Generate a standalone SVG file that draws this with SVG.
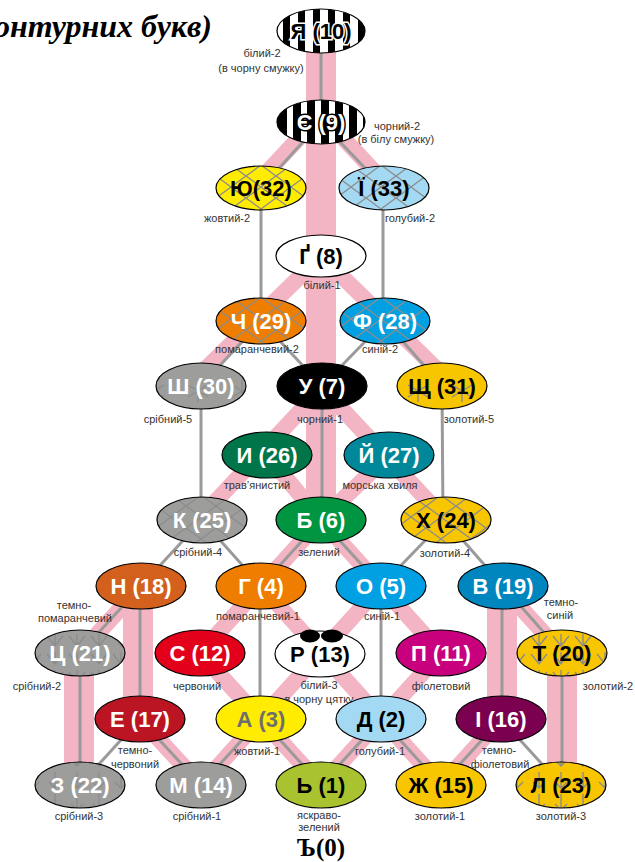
<svg xmlns="http://www.w3.org/2000/svg" width="635" height="862" viewBox="0 0 635 862">
<style>
.pk{stroke:#F3B4C3;fill:none;stroke-linecap:butt}
.w{stroke-width:30}
.d{stroke-width:16}
.g{stroke:#9a9a9a;stroke-width:3;fill:none}
.o{stroke:#000;stroke-width:1.2}
.t{font-family:"Liberation Sans",Arial,sans-serif;font-weight:bold;font-size:22px;text-anchor:middle}
.tw{fill:#fff}
.tb{fill:#000}
.l{font-family:"Liberation Sans",Arial,sans-serif;font-size:11px;fill:#333;text-anchor:middle}
.pt{stroke:#8c8c8c;stroke-width:1.4;fill:none}
</style>
<defs>
<pattern id="lat" patternUnits="userSpaceOnUse" width="30" height="22" x="6" y="0"><path class="pt" d="M0,0 L15,11 L30,0 M0,22 L15,11 L30,22"/></pattern>
<pattern id="chk" patternUnits="userSpaceOnUse" width="22" height="18" x="0" y="4"><path class="pt" d="M3,2 L11,12 L19,2 M11,0 L11,12"/></pattern>
<pattern id="star" patternUnits="userSpaceOnUse" width="44" height="46" x="0" y="0"><path class="pt" d="M22,12 L22,34 M12,17 L32,29 M12,29 L32,17"/></pattern>
<pattern id="arr" patternUnits="userSpaceOnUse" width="22" height="22" x="0" y="0"><path class="pt" d="M11,2 L11,18 M5,12 L11,18 L17,12"/></pattern>
<clipPath id="cYa"><ellipse cx="321" cy="31" rx="44" ry="22"/></clipPath>
<clipPath id="cYe"><ellipse cx="321" cy="122" rx="44" ry="22"/></clipPath>
</defs>
<rect width="635" height="862" fill="#fff"/>

<text x="212" y="37" font-family="Liberation Serif,Times New Roman,serif" font-weight="bold" font-style="italic" font-size="32" text-anchor="end" fill="#000">онтурних букв)</text>

<g id="connectors">
<g id="pink">
<line class="pk w" x1="321" y1="31" x2="321" y2="520"/>
<line class="pk w" x1="138" y1="586" x2="138" y2="719"/>
<line class="pk w" x1="502" y1="586" x2="502" y2="719"/>
<line class="pk w" x1="79" y1="653" x2="79" y2="785"/>
<line class="pk w" x1="562" y1="653" x2="562" y2="785"/>
<line class="pk d" x1="312" y1="124" x2="256" y2="184"/>
<line class="pk d" x1="330" y1="124" x2="386" y2="184"/>
<line class="pk d" x1="321" y1="256" x2="188" y2="386"/>
<line class="pk d" x1="321" y1="256" x2="454" y2="386"/>
<line class="pk d" x1="318" y1="392" x2="200" y2="518"/>
<line class="pk d" x1="326" y1="392" x2="444" y2="518"/>
<line class="pk d" x1="267" y1="455" x2="321" y2="520"/>
<line class="pk d" x1="389" y1="455" x2="321" y2="520"/>
<line class="pk d" x1="321" y1="520" x2="200" y2="653"/>
<line class="pk d" x1="321" y1="520" x2="441" y2="653"/>
<line class="pk d" x1="132" y1="596" x2="80" y2="653"/>
<line class="pk d" x1="510" y1="596" x2="562" y2="653"/>
<line class="pk d" x1="261" y1="586" x2="441" y2="785"/>
<line class="pk d" x1="381" y1="586" x2="201" y2="785"/>
<line class="pk d" x1="200" y1="653" x2="321" y2="785"/>
<line class="pk d" x1="441" y1="653" x2="321" y2="785"/>
<line class="pk d" x1="140" y1="719" x2="201" y2="785"/>
<line class="pk d" x1="501" y1="719" x2="441" y2="785"/>
</g>
<g id="gray">
<line class="g" x1="321" y1="31" x2="321" y2="122"/>
<line class="g" x1="321" y1="122" x2="261" y2="188"/>
<line class="g" x1="321" y1="122" x2="384" y2="188"/>
<line class="g" x1="261" y1="188" x2="261" y2="321"/>
<line class="g" x1="383" y1="188" x2="383" y2="321"/>
<line class="g" x1="261" y1="321" x2="201" y2="386"/>
<line class="g" x1="261" y1="321" x2="322" y2="386"/>
<line class="g" x1="385" y1="321" x2="322" y2="386"/>
<line class="g" x1="385" y1="321" x2="442" y2="386"/>
<line class="g" x1="201" y1="386" x2="201" y2="520"/>
<line class="g" x1="322" y1="386" x2="322" y2="520"/>
<line class="g" x1="442" y1="386" x2="443" y2="520"/>
<line class="g" x1="202" y1="520" x2="141" y2="586"/>
<line class="g" x1="202" y1="520" x2="261" y2="586"/>
<line class="g" x1="321" y1="520" x2="261" y2="586"/>
<line class="g" x1="321" y1="520" x2="381" y2="586"/>
<line class="g" x1="445" y1="520" x2="381" y2="586"/>
<line class="g" x1="445" y1="520" x2="503" y2="586"/>
<line class="g" x1="141" y1="586" x2="80" y2="653"/>
<line class="g" x1="140" y1="586" x2="140" y2="719"/>
<line class="g" x1="260" y1="586" x2="260" y2="719"/>
<line class="g" x1="381" y1="586" x2="381" y2="719"/>
<line class="g" x1="503" y1="586" x2="562" y2="653"/>
<line class="g" x1="502" y1="586" x2="502" y2="719"/>
<line class="g" x1="80" y1="653" x2="80" y2="785"/>
<line class="g" x1="562" y1="653" x2="562" y2="785"/>
<line class="g" x1="140" y1="719" x2="80" y2="785"/>
<line class="g" x1="140" y1="719" x2="201" y2="785"/>
<line class="g" x1="261" y1="719" x2="201" y2="785"/>
<line class="g" x1="261" y1="719" x2="321" y2="785"/>
<line class="g" x1="381" y1="719" x2="321" y2="785"/>
<line class="g" x1="381" y1="719" x2="441" y2="785"/>
<line class="g" x1="501" y1="719" x2="441" y2="785"/>
<line class="g" x1="501" y1="719" x2="561" y2="785"/>
</g>
</g>

<g id="n-ya">
<ellipse cx="321" cy="31" rx="44" ry="22" fill="#fff"/>
<g clip-path="url(#cYa)" fill="#000"><rect x="283" y="5" width="7" height="52"/><rect x="298" y="5" width="7" height="52"/><rect x="313" y="5" width="7" height="52"/><rect x="328" y="5" width="7" height="52"/><rect x="343" y="5" width="7" height="52"/><rect x="358" y="5" width="7" height="52"/></g>
<ellipse class="o" cx="321" cy="31" rx="44" ry="22" fill="none"/>
<text class="t tb" x="321" y="39" stroke="#fff" stroke-width="3" paint-order="stroke">Я (10)</text>
<text class="l" x="262" y="57">білий-2</text>
<text class="l" x="261" y="72">(в чорну смужку)</text>
</g>
<g id="n-ye">
<ellipse cx="321" cy="122" rx="44" ry="22" fill="#000"/>
<g clip-path="url(#cYe)" fill="#fff"><rect x="287" y="96" width="6" height="52"/><rect x="301" y="96" width="6" height="52"/><rect x="315" y="96" width="6" height="52"/><rect x="329" y="96" width="6" height="52"/><rect x="343" y="96" width="6" height="52"/><rect x="357" y="96" width="6" height="52"/></g>
<ellipse class="o" cx="321" cy="122" rx="44" ry="22" fill="none"/>
<text class="t tw" x="321" y="130" stroke="#000" stroke-width="3" paint-order="stroke">Є (9)</text>
<text class="l" x="397" y="130">чорний-2</text>
<text class="l" x="396" y="143">(в білу смужку)</text>
</g>
<g id="n-yu">
<ellipse cx="261" cy="188" rx="45" ry="22" fill="#FFEC00"/>
<ellipse class="o" cx="261" cy="188" rx="45" ry="22" fill="url(#lat)"/>
<text class="t tb" x="261" y="196">Ю(32)</text>
<text class="l" x="227" y="222">жовтий-2</text>
</g>
<g id="n-yi">
<ellipse cx="384" cy="188" rx="45" ry="22" fill="#A3D9F2"/>
<ellipse class="o" cx="384" cy="188" rx="45" ry="22" fill="url(#lat)"/>
<text class="t tb" x="384" y="196">Ї (33)</text>
<text class="l" x="410" y="222">голубий-2</text>
</g>
<g id="n-ge">
<ellipse class="o" cx="321" cy="256" rx="45" ry="21" fill="#fff"/>
<text class="t tb" x="321" y="264">Ґ (8)</text>
<text class="l" x="322" y="289">білий-1</text>
</g>
<g id="n-ch">
<ellipse cx="261" cy="321" rx="45" ry="23" fill="#EE7D00"/>
<ellipse class="o" cx="261" cy="321" rx="45" ry="23" fill="url(#lat)"/>
<text class="t tw" x="261" y="329">Ч (29)</text>
<text class="l" x="257" y="353">помаранчевий-2</text>
</g>
<g id="n-f">
<ellipse cx="385" cy="321" rx="45" ry="23" fill="#00A0E2"/>
<ellipse class="o" cx="385" cy="321" rx="45" ry="23" fill="url(#lat)"/>
<text class="t tw" x="385" y="329">Ф (28)</text>
<text class="l" x="380" y="353">синій-2</text>
</g>
<g id="n-sh">
<ellipse cx="201" cy="386" rx="45" ry="23" fill="#9D9D9C"/>
<ellipse class="o" cx="201" cy="386" rx="45" ry="23" fill="url(#star)"/>
<text class="t tw" x="201" y="394">Ш (30)</text>
<text class="l" x="168" y="423">срібний-5</text>
</g>
<g id="n-u">
<ellipse class="o" cx="322" cy="386" rx="45" ry="23" fill="#000"/>
<text class="t tw" x="322" y="394">У (7)</text>
<text class="l" x="320" y="423">чорний-1</text>
</g>
<g id="n-shch">
<ellipse cx="442" cy="386" rx="45" ry="23" fill="#F7C600"/>
<ellipse class="o" cx="442" cy="386" rx="45" ry="23" fill="url(#star)"/>
<text class="t tb" x="442" y="394">Щ (31)</text>
<text class="l" x="469" y="423">золотий-5</text>
</g>
<g id="n-y">
<ellipse class="o" cx="267" cy="455" rx="45" ry="23" fill="#00754A"/>
<text class="t tw" x="267" y="463">И (26)</text>
<text class="l" x="257" y="489">трав’янистий</text>
</g>
<g id="n-yk">
<ellipse class="o" cx="389" cy="455" rx="45" ry="23" fill="#00889A"/>
<text class="t tw" x="389" y="463">Й (27)</text>
<text class="l" x="380" y="489">морська хвиля</text>
</g>
<g id="n-k">
<ellipse cx="202" cy="520" rx="45" ry="23" fill="#9D9D9C"/>
<ellipse class="o" cx="202" cy="520" rx="45" ry="23" fill="url(#lat)"/>
<text class="t tw" x="202" y="528">К (25)</text>
<text class="l" x="198" y="556">срібний-4</text>
</g>
<g id="n-b">
<ellipse class="o" cx="321" cy="520" rx="45" ry="23" fill="#009540"/>
<text class="t tw" x="321" y="528">Б (6)</text>
<text class="l" x="319" y="556">зелений</text>
</g>
<g id="n-kh">
<ellipse cx="446" cy="520" rx="45" ry="23" fill="#F7C600"/>
<ellipse class="o" cx="446" cy="520" rx="45" ry="23" fill="url(#lat)"/>
<text class="t tb" x="446" y="528">Х (24)</text>
<text class="l" x="445" y="557">золотий-4</text>
</g>
<g id="n-n">
<ellipse class="o" cx="141" cy="586" rx="45" ry="23" fill="#D3601C"/>
<text class="t tw" x="141" y="594">Н (18)</text>
<text class="l" x="74" y="609">темно-</text>
<text class="l" x="75" y="622">помаранчевий</text>
</g>
<g id="n-h">
<ellipse class="o" cx="261" cy="586" rx="45" ry="23" fill="#EE7D00"/>
<text class="t tw" x="261" y="594">Г (4)</text>
<text class="l" x="258" y="620">помаранчевий-1</text>
</g>
<g id="n-o">
<ellipse class="o" cx="381" cy="586" rx="45" ry="23" fill="#00A0E2"/>
<text class="t tw" x="381" y="594">О (5)</text>
<text class="l" x="382" y="620">синій-1</text>
</g>
<g id="n-v">
<ellipse class="o" cx="503" cy="586" rx="45" ry="23" fill="#0086BE"/>
<text class="t tw" x="503" y="594">В (19)</text>
<text class="l" x="561" y="606">темно-</text>
<text class="l" x="560" y="619">синій</text>
</g>
<g id="n-ts">
<ellipse cx="80" cy="653" rx="45" ry="23" fill="#9D9D9C"/>
<ellipse class="o" cx="80" cy="653" rx="45" ry="23" fill="url(#chk)"/>
<text class="t tw" x="80" y="661">Ц (21)</text>
<text class="l" x="37" y="690">срібний-2</text>
</g>
<g id="n-s">
<ellipse class="o" cx="200" cy="653" rx="45" ry="23" fill="#E3001B"/>
<text class="t tw" x="200" y="661">С (12)</text>
<text class="l" x="197" y="690">червоний</text>
</g>
<g id="n-r">
<ellipse class="o" cx="320" cy="654" rx="45" ry="23" fill="#fff"/>
<ellipse cx="310" cy="636" rx="10" ry="6.5" fill="#000"/>
<ellipse cx="332" cy="636" rx="11" ry="6.5" fill="#000"/>
<text class="t tb" x="320" y="662">Р (13)</text>
<text class="l" x="319" y="689">білий-3</text>
<text class="l" x="319" y="703">в чорну цятку</text>
</g>
<g id="n-p">
<ellipse class="o" cx="441" cy="653" rx="45" ry="23" fill="#C9007D"/>
<text class="t tw" x="441" y="661">П (11)</text>
<text class="l" x="441" y="690">фіолетовий</text>
</g>
<g id="n-t">
<ellipse cx="562" cy="653" rx="45" ry="23" fill="#F7C600"/>
<ellipse class="o" cx="562" cy="653" rx="45" ry="23" fill="url(#chk)"/>
<text class="t tb" x="562" y="661">Т (20)</text>
<text class="l" x="608" y="690">золотий-2</text>
</g>
<g id="n-e">
<ellipse class="o" cx="140" cy="719" rx="45" ry="23" fill="#BB1524"/>
<text class="t tw" x="140" y="727">Е (17)</text>
<text class="l" x="135" y="754">темно-</text>
<text class="l" x="135" y="768">червоний</text>
</g>
<g id="n-a">
<ellipse class="o" cx="261" cy="719" rx="45" ry="23" fill="#FFEC00"/>
<text class="t" x="261" y="727" fill="#6e6e6e">А (3)</text>
<text class="l" x="257" y="755">жовтий-1</text>
</g>
<g id="n-d">
<ellipse class="o" cx="381" cy="719" rx="45" ry="23" fill="#A3D9F2"/>
<text class="t tb" x="381" y="727">Д (2)</text>
<text class="l" x="380" y="755">голубий-1</text>
</g>
<g id="n-i">
<ellipse class="o" cx="501" cy="719" rx="45" ry="23" fill="#7B0050"/>
<text class="t tw" x="501" y="727">І (16)</text>
<text class="l" x="499" y="754">темно-</text>
<text class="l" x="500" y="768">фіолетовий</text>
</g>
<g id="n-z">
<ellipse cx="80" cy="785" rx="45" ry="23" fill="#9D9D9C"/>
<ellipse class="o" cx="80" cy="785" rx="45" ry="23" fill="url(#arr)"/>
<text class="t tw" x="80" y="793">З (22)</text>
<text class="l" x="79" y="820">срібний-3</text>
</g>
<g id="n-m">
<ellipse class="o" cx="201" cy="785" rx="45" ry="23" fill="#9D9D9C"/>
<text class="t tw" x="201" y="793">М (14)</text>
<text class="l" x="197" y="820">срібний-1</text>
</g>
<g id="n-soft">
<ellipse class="o" cx="321" cy="785" rx="45" ry="23" fill="#A8C32F"/>
<text class="t tb" x="321" y="793">Ь (1)</text>
<text class="l" x="319" y="819">яскраво-</text>
<text class="l" x="319" y="831">зелений</text>
</g>
<g id="n-zh">
<ellipse class="o" cx="441" cy="785" rx="45" ry="23" fill="#F7C600"/>
<text class="t tb" x="441" y="793">Ж (15)</text>
<text class="l" x="440" y="820">золотий-1</text>
</g>
<g id="n-l">
<ellipse cx="561" cy="785" rx="45" ry="23" fill="#F7C600"/>
<ellipse class="o" cx="561" cy="785" rx="45" ry="23" fill="url(#arr)"/>
<text class="t tb" x="561" y="793">Л (23)</text>
<text class="l" x="561" y="820">золотий-3</text>
</g>
<g id="n-hard">
<text x="321" y="856" font-family="Liberation Serif,Times New Roman,serif" font-weight="bold" font-size="25" text-anchor="middle" fill="#000">Ъ(0)</text>
</g>
</svg>
